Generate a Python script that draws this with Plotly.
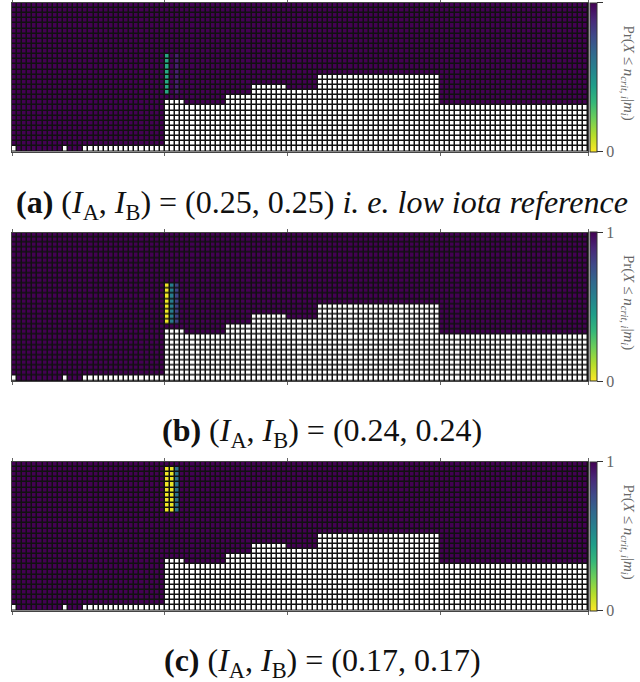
import numpy as np
import plotly.graph_objects as go

# Grid size (columns x rows) shared by the three panels
N_COLS = 113
N_ROWS = 29

# Excluded (white) region: per column segment, number of rows counted from the bottom
seg_starts = [30, 34, 42, 47, 54, 60, 84]
seg_heights = [10, 9, 11, 13, 12, 15, 9]
# excluded cells on the bottom row to the left of the first segment
bottom_row_white_cols = [0, 10, 14, 15, 16, 17, 18, 19, 20, 21, 22, 23, 24, 25, 26, 27, 28, 29]

# Probabilities that differ from 1 in each panel: rows (inclusive), columns, values
panel_rows = [(11, 18), (11, 18), (19, 27)]
panel_cols = [[30, 32], [30, 31, 32], [30, 31, 32]]
panel_vals = [[0.40, 0.92], [0.02, 0.58, 0.80], [0.02, 0.03, 0.62]]

captions = [
    "<b>(a)</b> (<i>I</i><sub>A</sub>, <i>I</i><sub>B</sub>) = (0.25, 0.25) <i>i. e. low iota reference</i>",
    "<b>(b)</b> (<i>I</i><sub>A</sub>, <i>I</i><sub>B</sub>) = (0.24, 0.24)",
    "<b>(c)</b> (<i>I</i><sub>A</sub>, <i>I</i><sub>B</sub>) = (0.17, 0.17)",
]
cbar_title = "Pr(<i>X</i> ≤ <i>n</i><sub><i>crit, i</i></sub>|<i>m</i><sub><i>i</i></sub>)"
cbar_ticks = [0, 1]
cbar_ticktext = ["0", "1"]
x_tick_bounds = [0, 30, 54, 84, 113]

W, H = 640, 682
LEFT, RIGHT = 12, 588
TOPS = [3, 232.5, 462]
PH = 148.5
CAP_Y = [205, 432, 662]
SERIF = "Liberation Serif, DejaVu Serif, serif"

# mask of excluded cells
mask = np.zeros((N_ROWS, N_COLS), dtype=bool)
ends = seg_starts[1:] + [N_COLS]
for s, e, h in zip(seg_starts, ends, seg_heights):
    mask[:h, s:e] = True
mask[0, bottom_row_white_cols] = True

xs = np.arange(N_COLS)
ys = np.arange(N_ROWS)

fig = go.Figure()
for p in range(3):
    z = np.ones((N_ROWS, N_COLS))
    r0, r1 = panel_rows[p]
    for c, v in zip(panel_cols[p], panel_vals[p]):
        z[r0:r1 + 1, c] = v
    z_vals = np.where(mask, np.nan, z)
    z_mask = np.where(mask, 1.0, np.nan)
    sfx = "" if p == 0 else str(p + 1)
    top = TOPS[p]
    y_hi = 1 - top / H
    y_lo = 1 - (top + PH) / H
    fig.add_trace(go.Heatmap(
        x=xs, y=ys, z=z_vals, zmin=0, zmax=1,
        colorscale="Viridis", reversescale=True,
        xgap=1.5, ygap=1.5, hoverinfo="skip",
        xaxis="x" + sfx, yaxis="y" + sfx,
        colorbar=dict(
            x=590 / W, xanchor="left", xpad=0,
            y=(y_hi + y_lo) / 2, yanchor="middle", ypad=0,
            len=PH, lenmode="pixels", thickness=7,
            outlinewidth=1, outlinecolor="#333",
            tickvals=cbar_ticks, ticktext=cbar_ticktext,
            ticks="outside", ticklen=6, tickcolor="#333",
            tickfont=dict(family=SERIF, size=16, color="#666"),
        ),
    ))
    fig.add_trace(go.Heatmap(
        x=xs, y=ys, z=z_mask, zmin=0, zmax=1,
        colorscale=[[0, "white"], [1, "white"]], showscale=False,
        xgap=1.5, ygap=1.5, hoverinfo="skip",
        xaxis="x" + sfx, yaxis="y" + sfx,
    ))
    fig.layout["xaxis" + sfx] = dict(
        domain=[LEFT / W, RIGHT / W], range=[-0.5, N_COLS - 0.5],
        anchor="y" + sfx, showgrid=False, zeroline=False,
        showline=True, linecolor="#444", linewidth=1, mirror="allticks",
        ticks="outside", ticklen=3, tickcolor="#666",
        tickvals=[b - 0.5 for b in x_tick_bounds], showticklabels=False,
    )
    fig.layout["yaxis" + sfx] = dict(
        domain=[y_lo, y_hi], range=[-0.5, N_ROWS - 0.5],
        anchor="x" + sfx, showgrid=False, zeroline=False,
        showline=True, linecolor="#444", linewidth=1, mirror=True,
        showticklabels=False, ticks="",
    )
    fig.add_annotation(
        text=captions[p], x=322 / W, y=1 - CAP_Y[p] / H,
        xref="paper", yref="paper", xanchor="center", yanchor="middle",
        showarrow=False, font=dict(family=SERIF, size=32, color="#111"),
    )
    fig.add_annotation(
        text=cbar_title, x=628 / W, y=(y_hi + y_lo) / 2 + 0.007,
        xref="paper", yref="paper", xanchor="center", yanchor="middle",
        textangle=90, showarrow=False,
        font=dict(family=SERIF, size=15, color="#666"),
    )

fig.update_layout(
    width=W, height=H, margin=dict(l=0, r=0, t=0, b=0),
    paper_bgcolor="white", plot_bgcolor="#111",
    showlegend=False,
)
fig.write_html("out.html")
